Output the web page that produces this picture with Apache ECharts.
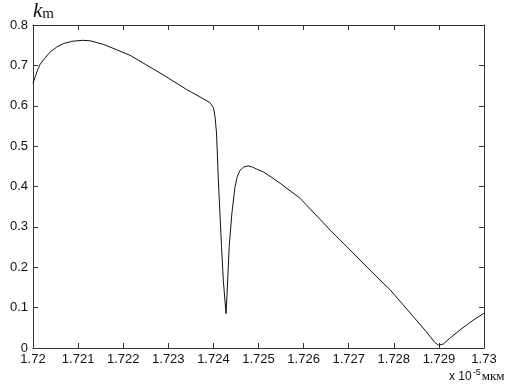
<!DOCTYPE html>
<html>
<head>
<meta charset="utf-8">
<script src="https://cdn.jsdelivr.net/npm/echarts@6/dist/echarts.min.js"></script>
<style>html,body{margin:0;padding:0;background:#fff}#c{width:516px;height:389px}</style>
</head>
<body>
<div id="c"></div>
<script>
// wavelength, units of 1e-5 mkm
const wavelength = [1.72000,1.72005,1.72010,1.72016,1.72025,1.72038,1.72052,1.72067,1.72089,1.72110,1.72126,1.72140,1.72156,1.72185,1.72215,1.72250,1.72288,1.72341,1.72370,1.72392,1.72400,1.72404,1.72407,1.72411,1.72418,1.72422,1.72428,1.72430,1.72435,1.72441,1.72448,1.72453,1.72459,1.72467,1.72477,1.72487,1.72496,1.72511,1.72530,1.72548,1.72592,1.72659,1.72703,1.72747,1.72792,1.72843,1.72870,1.72890,1.72899,1.72910,1.72925,1.72947,1.72976,1.73000];
const km = [0.656,0.672,0.688,0.703,0.716,0.733,0.745,0.754,0.760,0.762,0.761,0.757,0.752,0.739,0.725,0.702,0.677,0.640,0.622,0.608,0.596,0.570,0.530,0.416,0.251,0.168,0.085,0.127,0.251,0.334,0.400,0.425,0.440,0.448,0.451,0.448,0.443,0.436,0.422,0.408,0.371,0.292,0.243,0.193,0.144,0.078,0.043,0.015,0.007,0.010,0.025,0.045,0.069,0.086];
const xTicks = ['1.72','1.721','1.722','1.723','1.724','1.725','1.726','1.727','1.728','1.729','1.73'];
const yTicks = ['0','0.1','0.2','0.3','0.4','0.5','0.6','0.7','0.8'];

const chart = echarts.init(document.getElementById('c'));
const axisCol = '#333';
const baseX = {
  type: 'value', min: 1.72, max: 1.73, interval: 0.001,
  axisLine: {show: true, onZero: false, lineStyle: {color: axisCol, width: 1}},
  axisTick: {show: true, inside: true, length: 5, lineStyle: {color: axisCol}},
  splitLine: {show: false}
};
const baseY = {
  type: 'value', min: 0, max: 0.8, interval: 0.1,
  axisLine: {show: true, onZero: false, lineStyle: {color: axisCol, width: 1}},
  axisTick: {show: true, inside: true, length: 5, lineStyle: {color: axisCol}},
  splitLine: {show: false}
};
chart.setOption({
  animation: false,
  grid: {left: 33, right: 32, top: 25, bottom: 41, containLabel: false},
  xAxis: [
    Object.assign({}, baseX, {position: 'bottom',
      axisLabel: {show: true, margin: 5, color: '#111', fontFamily: 'Liberation Sans', fontSize: 13,
        formatter: v => xTicks[Math.round((v - 1.72) / 0.001)]}}),
    Object.assign({}, baseX, {position: 'top', axisLabel: {show: false}})
  ],
  yAxis: [
    Object.assign({}, baseY, {position: 'left',
      axisLabel: {show: true, margin: 5, color: '#111', fontFamily: 'Liberation Sans', fontSize: 13,
        formatter: v => yTicks[Math.round(v / 0.1)]}}),
    Object.assign({}, baseY, {position: 'right', axisLabel: {show: false}})
  ],
  series: [{
    type: 'line', xAxisIndex: 0, yAxisIndex: 0,
    data: wavelength.map((x, i) => [x, km[i]]),
    showSymbol: false, smooth: false,
    lineStyle: {color: '#111', width: 1}
  }],
  graphic: [
    {type: 'text', left: 33, top: 1, style: {
      text: '{k|k}{m|m}',
      rich: {
        k: {fontFamily: 'Liberation Serif', fontStyle: 'italic', fontSize: 21, fill: '#111', verticalAlign: 'bottom'},
        m: {fontFamily: 'Liberation Serif', fontSize: 15, fill: '#111', verticalAlign: 'bottom'}
      }}},
    {type: 'text', left: 449, top: 368, style: {
      text: '{a|x 10}{s|-5}{u|мкм}',
      rich: {
        a: {fontFamily: 'Liberation Sans', fontSize: 12, fill: '#111', verticalAlign: 'bottom'},
        s: {fontFamily: 'Liberation Sans', fontSize: 9, fill: '#111', verticalAlign: 'top', padding: [0,1,6,1]},
        u: {fontFamily: 'Liberation Serif', fontSize: 13, fill: '#111', verticalAlign: 'bottom'}
      }}}
  ]
});
</script>
</body>
</html>
